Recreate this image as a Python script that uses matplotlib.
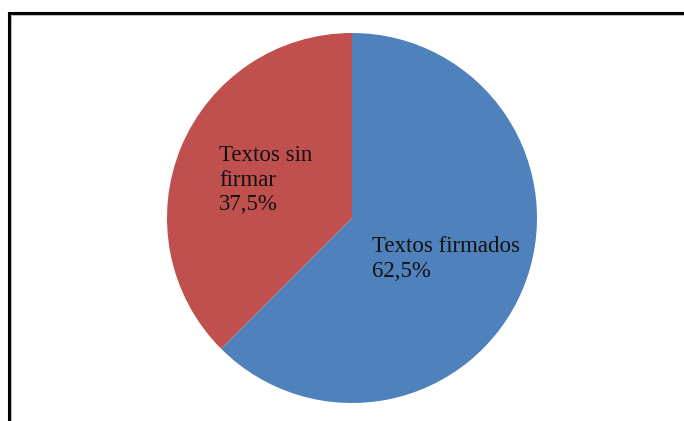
import matplotlib
matplotlib.use("Agg")
import matplotlib.pyplot as plt
from matplotlib.lines import Line2D

# data
labels = ["Textos firmados", "Textos sin\nfirmar"]
values = [62.5, 37.5]
colors = ["#4F81BD", "#C0504D"]

W, H = 684, 421
fig = plt.figure(figsize=(W / 100, H / 100), dpi=100)
ax = fig.add_axes([0, 0, 1, 1])

# pie, clockwise from 12 o'clock (pixel coords, y up)
ax.pie(values, colors=colors, startangle=90, counterclock=False,
       center=(352, H - 218), radius=185,
       wedgeprops=dict(linewidth=0))
ax.set_xlim(0, W)
ax.set_ylim(0, H)
ax.set_aspect("equal")
ax.axis("off")

# labels inside the slices
label_pos = [(372, H - 236), (219, H - 145)]
for (lx, ly), lab, v in zip(label_pos, labels, values):
    txt = f"{lab}\n{v:.1f}%".replace(".", ",")
    ax.text(lx, ly, txt, fontsize=16.5, family="Liberation Serif",
            color="#111111", ha="left", va="top", linespacing=1.22)

# open frame: top and left edges with a faint inner shadow
fig.add_artist(Line2D([9 / W, 1], [1 - 12.5 / H, 1 - 12.5 / H],
                      color="black", lw=2.2, transform=fig.transFigure))
fig.add_artist(Line2D([9 / W, 9 / W], [0, 1 - 12.5 / H],
                      color="black", lw=2.2, transform=fig.transFigure))
fig.add_artist(Line2D([11 / W, 1], [1 - 14.5 / H, 1 - 14.5 / H],
                      color="#bbbbbb", lw=0.8, transform=fig.transFigure))
fig.add_artist(Line2D([11 / W, 11 / W], [0, 1 - 14.5 / H],
                      color="#bbbbbb", lw=0.8, transform=fig.transFigure))

fig.savefig("out.png", dpi=100)
